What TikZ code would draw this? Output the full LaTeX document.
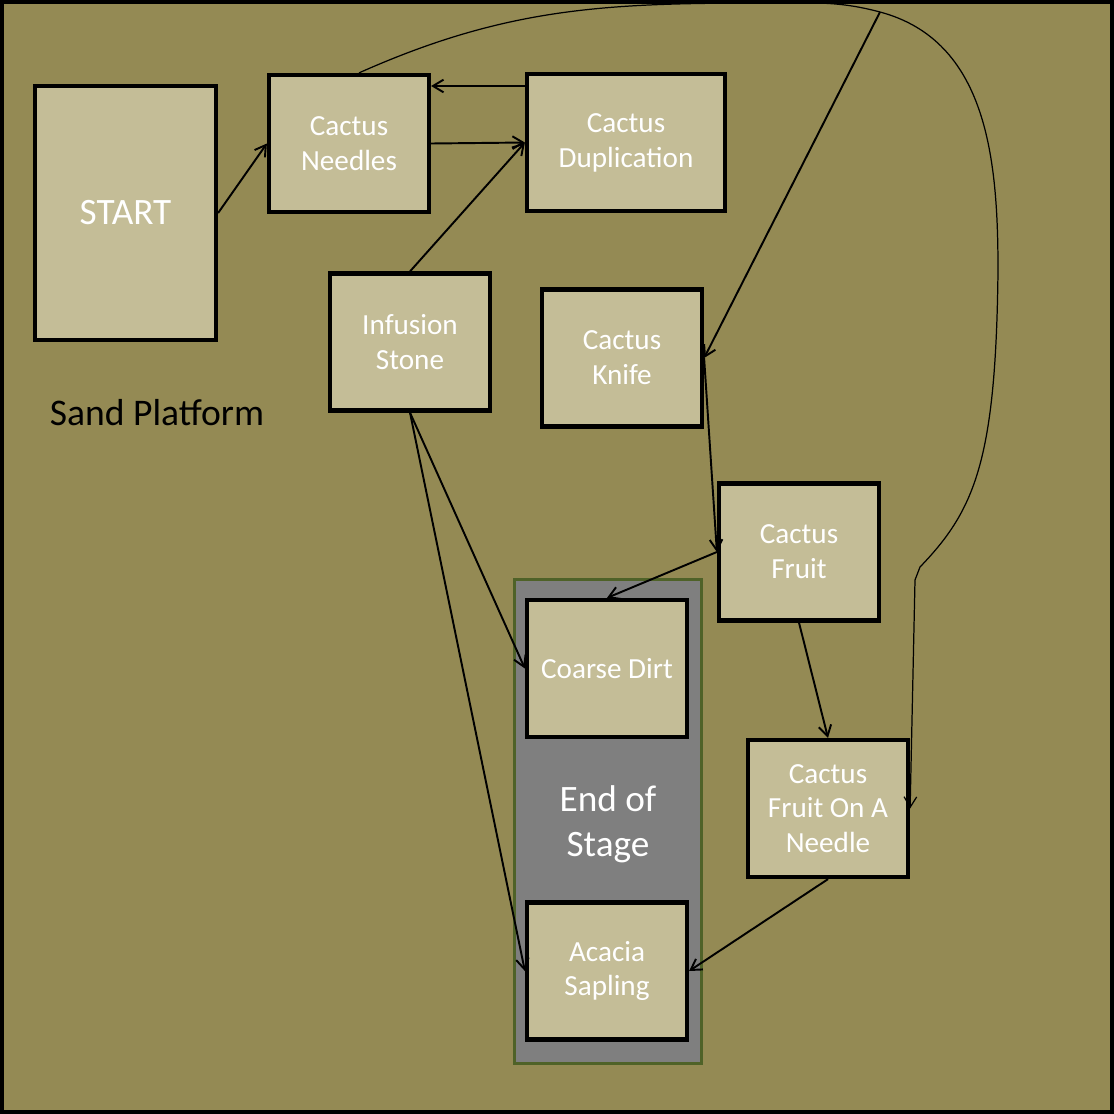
\documentclass[tikz,border=0pt]{standalone}
\usepackage{fontspec}
\setmainfont{Carlito}
\usepackage{tikz}
\usetikzlibrary{arrows.meta}
\usetikzlibrary{positioning}
\definecolor{msand}{HTML}{948A54}
\definecolor{mbox}{HTML}{C4BD97}
\definecolor{mgrey}{HTML}{7F7F7F}
\definecolor{mgreen}{HTML}{4F6228}

\begin{document}
\begin{tikzpicture}[
    item/.style={draw=black, line width=1.2pt, fill=mbox, text=white, minimum width=1.6cm, minimum height=1.37cm, align=center, inner sep=0pt, font=\fontsize{8.3}{9.9}\selectfont},
    link/.style={-{Straight Barb[length=3pt, width=3.6pt]}, line width=0.55pt},
    loop/.style={-{Straight Barb[length=3pt, width=3.6pt]}, line width=0.35pt}
  ]
      \useasboundingbox (0, 0) rectangle (11.14, -11.14);
      \draw [line width=1.1pt, fill=msand] (0.019, -0.019) rectangle (11.121, -11.121);

      \node [draw=mgreen, line width=1pt, fill=mgrey, minimum width=1.87cm, minimum height=4.84cm] (stage) at (6.08, -8.215) {};
      \node [text=white, align=center, font=\fontsize{10.6}{12.8}\selectfont] (stagetext) at (6.08, -8.24) {End of\\Stage};
      \node [font=\fontsize{10.7}{12.8}\selectfont] (platform) at (1.57, -4.13) {Sand Platform};

      \node [item, minimum width=1.81cm, minimum height=2.54cm, font=\fontsize{10.6}{12.8}\selectfont] (start) at (1.255, -2.13) {START};
      \node [item] (needles) at (3.49, -1.435) {Cactus\\Needles};
      \node [item, minimum width=1.98cm] (dupl) at (6.26, -1.425) {Cactus\\Duplication};
      \node [item] (stone) at (4.10, -3.42) {Infusion\\Stone};
      \node [item] (knife) at (6.22, -3.58) {Cactus\\Knife};
      \node [item] (fruit) at (7.99, -5.52) {Cactus\\Fruit};
      \node [item] (needle) at (8.28, -8.085) {Cactus\\Fruit On A\\Needle};
      \node [item] (dirt) at (6.07, -6.685) {Coarse Dirt};
      \node [item] (sapling) at (6.07, -9.71) {Acacia\\Sapling};

      \coordinate (split) at (8.8, -0.12);

      \draw [link] (start.east) -- (needles.west);
      \draw [link] (needles.east) -- (dupl.west);
      \draw [link] ([yshift=5.65mm]dupl.west) -- ([yshift=5.75mm]needles.east);
      \draw [link] (stone.north) -- (dupl.west);
      \draw [link] (stone.south) -- (dirt.west);
      \draw [link] (stone.south) -- (sapling.west);
      \draw [link] (split) -- (knife.east);
      \draw [link] (knife.east) -- (fruit.west);
      \draw [link] (fruit.west) -- (dirt.north);
      \draw [link] (fruit.south) -- (needle.north);
      \draw [link] (needle.south) -- (sapling.east);

      \draw [loop] ([xshift=1mm]needles.north) to [out=24, in=180] (7.7, -0.03) to [out=0, in=165] (split) to [out=-15, in=90] (9.98, -2.7) .. controls (9.96, -4.6) and (9.75, -5.1) .. (9.2, -5.67) -- (9.15, -5.8) -- (needle.east);
    \end{tikzpicture}
\end{document}
